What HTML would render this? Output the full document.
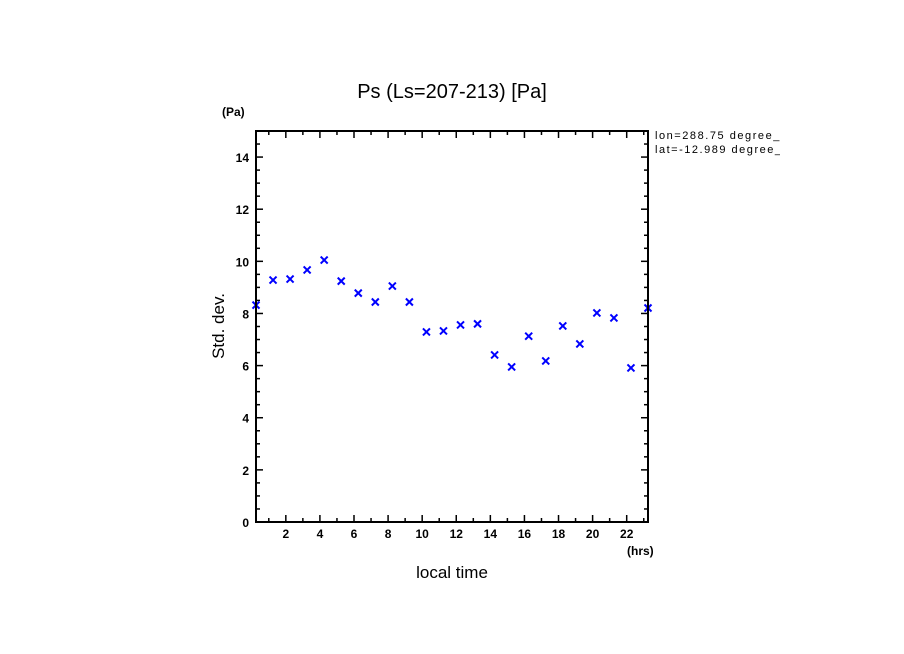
<!DOCTYPE html>
<html><head><meta charset="utf-8"><style>
html,body{margin:0;padding:0;background:#fff;}
svg{display:block;font-family:"Liberation Sans",sans-serif;}
</style></head><body>
<svg id="chart" width="904" height="654" viewBox="0 0 904 654" xmlns="http://www.w3.org/2000/svg">
<rect width="904" height="654" fill="#fff"/>
<text x="452" y="98" font-size="20" text-anchor="middle">Ps (Ls=207-213) [Pa]</text>
<text x="222" y="116" font-size="12" font-weight="bold">(Pa)</text>
<text x="627" y="555" font-size="12" font-weight="bold">(hrs)</text>
<text x="452" y="578" font-size="17" text-anchor="middle">local time</text>
<text transform="translate(224,326) rotate(-90)" font-size="17" text-anchor="middle">Std. dev.</text>
<text x="655" y="139" font-size="11" textLength="132">lon=288.75 degree_e</text>
<text x="655" y="153" font-size="11" textLength="126">lat=-12.989 degree_</text>
<rect x="780" y="125" width="124" height="40" fill="#fff"/>
<g id="ticks"></g>
<g id="marks"></g>
<rect x="256" y="131" width="392" height="391" fill="none" stroke="#000" stroke-width="2"/>
</svg>
<script>
const hours=[0.25,1.25,2.25,3.25,4.25,5.25,6.25,7.25,8.25,9.25,10.25,11.25,12.25,13.25,14.25,15.25,16.25,17.25,18.25,19.25,20.25,21.25,22.25,23.25];
const stdDev=[8.32,9.28,9.32,9.67,10.05,9.24,8.78,8.44,9.05,8.44,7.29,7.33,7.56,7.6,6.41,5.95,7.13,6.18,7.52,6.83,8.02,7.83,5.91,8.21];
const xTicks=[2,4,6,8,10,12,14,16,18,20,22];
const yTicks=[0,2,4,6,8,10,12,14];
const NS="http://www.w3.org/2000/svg";
const L=256,R=648,T=131,B=522,x0=0.25,x1=23.25,y0=0,y1=15;
const sx=v=>L+(v-x0)/(x1-x0)*(R-L);
const sy=v=>B-(v-y0)/(y1-y0)*(B-T);
function mk(tag,attrs,parent){const e=document.createElementNS(NS,tag);for(const k in attrs)e.setAttribute(k,attrs[k]);parent.appendChild(e);return e;}
const tg=document.getElementById('ticks');
for(let h=1;h<=23;h++){
  const x=sx(h),len=(h%2===0)?7:4;
  let l=mk('line',{x1:x,y1:B,x2:x,y2:B-len,stroke:'#000','stroke-width':1.5},tg);
  
  
  l=mk('line',{x1:x,y1:T,x2:x,y2:T+len,stroke:'#000','stroke-width':1.5},tg);
  
  
}
xTicks.forEach(v=>{
  const t=mk('text',{x:sx(v),y:B+16,'font-size':12,'font-weight':'bold','text-anchor':'middle'},tg);
  t.textContent=v;
  
  
});
for(let k=1;k<30;k++){
  const v=k*0.5,y=sy(v),len=(k%4===0)?7:4;
  let l=mk('line',{x1:L,y1:y,x2:L+len,y2:y,stroke:'#000','stroke-width':1.5},tg);
  
  
  l=mk('line',{x1:R,y1:y,x2:R-len,y2:y,stroke:'#000','stroke-width':1.5},tg);
  
  
}
yTicks.forEach(v=>{
  const t=mk('text',{x:L-7,y:sy(v)+5,'font-size':12,'font-weight':'bold','text-anchor':'end'},tg);
  t.textContent=v;
  
  
});
const mg=document.getElementById('marks');
hours.forEach((h,i)=>{
  const cx=sx(h),cy=sy(stdDev[i]),s=3.5;
  const p=mk('path',{d:`M${cx-s},${cy-s}L${cx+s},${cy+s}M${cx-s},${cy+s}L${cx+s},${cy-s}`,stroke:'#0000ff','stroke-width':2,fill:'none'},mg);
  
  
});
</script>
</body></html>
